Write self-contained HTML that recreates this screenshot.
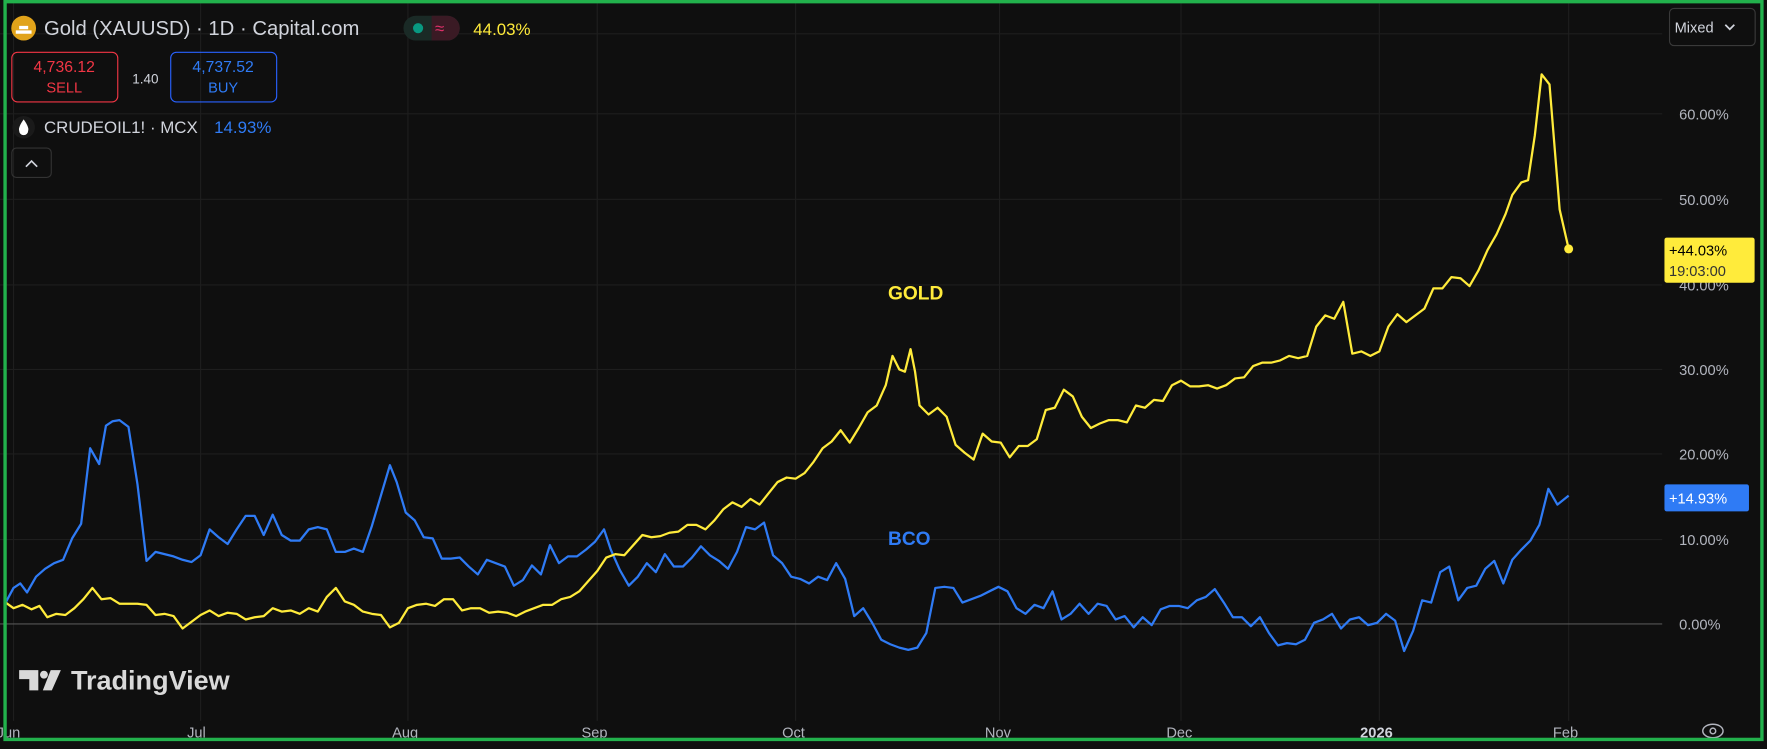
<!DOCTYPE html>
<html><head><meta charset="utf-8"><style>
html,body{margin:0;padding:0;background:#0f0f0f;}
svg{display:block;font-family:"Liberation Sans","DejaVu Sans",sans-serif;}
</style></head><body>
<svg width="1767" height="749" viewBox="0 0 1568 665" preserveAspectRatio="none" xmlns="http://www.w3.org/2000/svg">
<rect width="1568" height="665" fill="#0f0f0f"/>
<g stroke="#1e1e1e" stroke-width="1">
<line x1="0" y1="479" x2="1475" y2="479"/><line x1="0" y1="403" x2="1475" y2="403"/>
<line x1="0" y1="328" x2="1475" y2="328"/><line x1="0" y1="253" x2="1475" y2="253"/>
<line x1="0" y1="177" x2="1475" y2="177"/><line x1="0" y1="101" x2="1475" y2="101"/>
<line x1="0" y1="30" x2="1475" y2="30"/>
<line x1="12" y1="0" x2="12" y2="640"/><line x1="178" y1="0" x2="178" y2="640"/>
<line x1="362" y1="0" x2="362" y2="640"/><line x1="530" y1="0" x2="530" y2="640"/>
<line x1="706" y1="0" x2="706" y2="640"/><line x1="887" y1="0" x2="887" y2="640"/>
<line x1="1048" y1="0" x2="1048" y2="640"/><line x1="1224" y1="0" x2="1224" y2="640"/>
<line x1="1392" y1="0" x2="1392" y2="640"/>
</g>
<line x1="0" y1="554" x2="1475" y2="554" stroke="#555" stroke-width="1"/>
<polyline fill="none" stroke="#2f7bf5" stroke-width="2" stroke-linejoin="round" points="5,535 12,522 18,518 24,526 32,512 40,505 48,500 56,497 64,478 72,465 80,398 88,412 94,378 100,374 106,373 114,379 122,430 130,498 138,490 146,492 154,494 162,497 170,499 178,493 186,470 194,477 202,483 210,470 218,458 226,458 234,475 242,457 250,475 258,480 266,480 274,470 282,468 290,470 298,490 306,490 314,487 322,490 330,467 338,440 346,413 352,428 360,455 368,462 376,477 384,478 392,496 400,496 408,495 416,503 424,510 432,497 440,500 448,503 456,520 464,515 472,502 480,510 488,484 496,500 504,494 512,494 520,488 528,481 536,470 542,488 550,506 558,520 566,512 574,500 582,508 590,492 598,503 606,503 614,495 622,485 630,493 638,498 646,505 654,490 662,468 670,470 678,464 686,493 694,500 702,512 710,514 718,518 726,512 734,515 742,500 750,514 758,547 766,540 774,553 782,568 790,572 798,575 806,577 814,575 822,562 830,522 838,521 846,522 854,535 862,532 870,529 878,525 886,521 894,525 902,540 910,545 918,537 926,540 934,525 942,550 950,545 958,536 966,545 974,536 982,538 990,550 998,547 1006,557 1014,548 1022,555 1030,541 1038,538 1046,538 1054,540 1062,533 1070,530 1078,523 1086,535 1094,548 1102,548 1110,556 1118,548 1126,562 1134,573 1142,571 1150,572 1158,568 1166,553 1174,550 1182,545 1190,558 1198,550 1206,548 1214,555 1222,553 1230,545 1238,551 1246,578 1254,560 1262,533 1270,535 1278,508 1286,503 1294,533 1302,522 1310,520 1318,505 1326,498 1334,518 1342,497 1350,488 1358,480 1366,466 1374,434 1382,448 1392,440"/>
<polyline fill="none" stroke="#ffeb3b" stroke-width="2" stroke-linejoin="round" points="5,535 12,540 20,537 28,541 35,538 42,548 50,545 58,546 66,540 74,532 82,522 90,532 98,531 106,536 114,536 122,536 130,537 138,546 146,545 154,547 162,558 170,552 178,546 186,542 194,547 202,544 210,545 218,550 226,548 234,547 242,540 250,543 258,542 266,545 274,540 282,543 290,530 298,522 306,534 314,537 322,543 330,545 338,546 346,557 354,553 362,540 370,537 378,536 386,538 394,532 402,532 410,542 418,540 426,540 434,544 442,543 450,544 458,547 466,543 474,540 482,537 490,537 498,532 506,530 514,525 522,516 530,507 538,495 546,492 554,493 562,484 570,475 578,477 586,476 594,473 602,472 610,466 618,466 626,470 634,462 642,452 650,446 658,450 666,443 674,448 682,438 690,428 698,424 706,425 714,420 722,410 730,398 738,392 746,382 754,393 762,380 770,366 778,360 786,342 792,316 798,328 803,330 808,310 812,330 816,360 824,368 832,362 840,370 848,395 856,402 864,408 872,385 880,392 888,393 896,406 904,396 912,396 920,390 928,364 936,362 944,346 952,352 960,370 968,380 976,376 984,373 992,373 1000,375 1008,360 1016,362 1024,355 1032,356 1040,342 1048,338 1056,343 1064,343 1072,342 1080,345 1088,342 1096,336 1104,335 1112,325 1120,322 1128,322 1136,320 1144,316 1152,318 1160,316 1168,290 1176,280 1184,283 1192,268 1200,314 1208,312 1216,316 1224,312 1232,290 1240,279 1248,286 1256,280 1264,274 1272,256 1280,256 1288,246 1296,247 1304,254 1312,240 1320,222 1328,208 1336,190 1342,173 1350,162 1356,160 1362,120 1368,66 1375,75 1384,186 1392,221"/>
<circle cx="1392" cy="221" r="4" fill="#ffeb3b"/>
<text x="788" y="266" fill="#ffeb3b" font-size="17" font-weight="bold">GOLD</text>
<text x="788" y="484" fill="#2f7bf5" font-size="17" font-weight="bold">BCO</text>
<g fill="#b2b5be" font-size="13">
<text x="1490" y="106">60.00%</text><text x="1490" y="182">50.00%</text>
<text x="1490" y="333">30.00%</text><text x="1490" y="408">20.00%</text>
<text x="1490" y="484">10.00%</text><text x="1490" y="559">0.00%</text>
<text x="1490" y="258">40.00%</text>
</g>
<rect x="1477" y="211" width="80" height="40" rx="2" fill="#ffeb3b"/>
<text x="1481" y="227" font-size="13" fill="#000">+44.03%</text>
<text x="1481" y="245" font-size="13" fill="#333">19:03:00</text>
<rect x="1477" y="430" width="75" height="24" rx="2" fill="#2f7bf5"/>
<text x="1481" y="447" font-size="13" fill="#fff">+14.93%</text>
<rect x="1481.5" y="7.5" width="76" height="33" rx="4" fill="none" stroke="#3a3a3a"/>
<text x="1486" y="29" font-size="13" fill="#d1d4dc">Mixed</text>
<path d="M1531 22 l4 4 l4 -4" fill="none" stroke="#d1d4dc" stroke-width="1.5"/>
<g fill="#b2b5be" font-size="13">
<text x="-3" y="655">Jun</text><text x="166" y="655">Jul</text><text x="348" y="655">Aug</text>
<text x="516" y="655">Sep</text><text x="694" y="655">Oct</text><text x="874" y="655">Nov</text>
<text x="1035" y="655">Dec</text><text x="1207" y="655" font-weight="bold" fill="#d1d4dc">2026</text><text x="1378" y="655">Feb</text>
</g>
<ellipse cx="1520" cy="649" rx="9" ry="6" fill="none" stroke="#b2b5be" stroke-width="1.3"/>
<circle cx="1520" cy="649" r="2.5" fill="none" stroke="#b2b5be" stroke-width="1.3"/>
<g fill="#d9d9d9">
<path d="M17 595 h17 v18 h-8 v-10 h-9z"/><circle cx="39" cy="599" r="3.5"/><path d="M45 595 h9 l-8 18 h-8z"/>
<text x="63" y="612" font-size="24" font-weight="bold">TradingView</text>
</g>
<circle cx="21" cy="25" r="11" fill="#e1a31a"/>
<path d="M14 30 h14 v-3 h-14z M17 26 h8 v-3 h-8z" fill="#fff"/>
<text x="39" y="31" font-size="18" fill="#d1d4dc">Gold (XAUUSD) · 1D · Capital.com</text>
<rect x="358" y="14" width="50" height="22" rx="11" fill="#1a2a26"/>
<path d="M383 14 h14 a11 11 0 0 1 0 22 h-14z" fill="#3a1a24"/>
<circle cx="371" cy="25" r="4.5" fill="#089981"/>
<text x="386" y="30" font-size="15" fill="#e0306a">≈</text>
<text x="420" y="31" font-size="15" fill="#ffeb3b">44.03%</text>
<rect x="10.5" y="46.5" width="94" height="44" rx="5" fill="none" stroke="#f23645"/>
<text x="57" y="64" font-size="14" fill="#f23645" text-anchor="middle">4,736.12</text>
<text x="57" y="82" font-size="13" fill="#f23645" text-anchor="middle">SELL</text>
<text x="129" y="74" font-size="12" fill="#d1d4dc" text-anchor="middle">1.40</text>
<rect x="151.5" y="46.5" width="94" height="44" rx="5" fill="none" stroke="#2962ff"/>
<text x="198" y="64" font-size="14" fill="#2f7bf5" text-anchor="middle">4,737.52</text>
<text x="198" y="82" font-size="13" fill="#2f7bf5" text-anchor="middle">BUY</text>
<circle cx="21" cy="113" r="10" fill="#1a1a1a"/>
<path d="M21 106 q-5 7 -4 10 a4 4 0 0 0 8 0 q1 -3 -4 -10z" fill="#fff"/>
<text x="39" y="118" font-size="15" fill="#d1d4dc">CRUDEOIL1! · MCX</text>
<text x="190" y="118" font-size="15" fill="#2f7bf5">14.93%</text>
<rect x="10.5" y="131.5" width="35" height="26" rx="4" fill="none" stroke="#333"/>
<path d="M23 148 l5 -5 l5 5" fill="none" stroke="#d1d4dc" stroke-width="1.5"/>
<rect x="4.5" y="1.5" width="1559" height="655" fill="none" stroke="#22b14c" stroke-width="3"/>
</svg>
</body></html>
